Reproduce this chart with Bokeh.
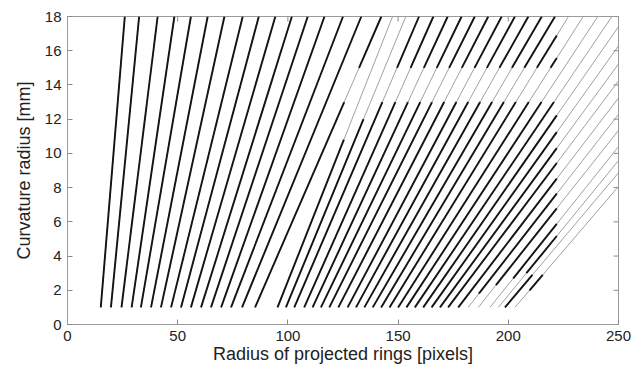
from math import pi
from bokeh.plotting import figure
from bokeh.models import Range1d, FixedTicker
from bokeh.embed import file_html
from bokeh.resources import INLINE

# ---------------- data ----------------
# Radius of projected ring [pixels] at curvature radius 1 mm and at 18 mm
left_x_at_1mm = [15.1, 19.7, 24.5, 29.1, 33.3, 37.9, 42.4, 47.0,
                 51.5, 56.0, 60.6, 65.1, 69.7, 74.2, 79.2, 85.1]
left_x_at_18mm = [26.0, 32.5, 40.9, 48.5, 56.0, 63.6, 71.2, 79.5,
                  86.8, 94.3, 101.8, 109.0, 116.6, 125.0, 133.3, 142.4]

right_x_at_1mm = [95.3, 99.1, 102.9, 107.4, 111.2, 115.0, 118.8, 122.9,
                  127.1, 130.9, 134.7, 138.5, 142.3, 146.1, 150.0, 153.8,
                  157.6, 161.4, 165.2, 169.0, 172.7, 177.3, 181.8, 186.4,
                  191.7, 195.5, 198.5, 203.0]
right_x_at_18mm = [147.5, 153.5, 159.5, 166.0, 172.5, 178.8, 184.8, 190.9,
                   197.0, 203.0, 209.1, 215.2, 221.2, 227.3, 234.0, 240.6,
                   247.0, 253.2, 259.5, 265.8, 272.0, 278.3, 284.6, 290.9,
                   297.2, 303.5, 309.8, 316.0]

# curvature ranges [mm] where each ring was measured (black)
left_measured = [[(1, 18)]] * 15 + [[(1, 13), (15, 18)]]
right_measured = ([[(1, 10.8)], [(1, 12.0)]]
                  + [[(1, 13), (15, 18)]] * 13
                  + [[(1, 13)]] * 2
                  + [[(1, 18)]] * 5
                  + [[(1.8, 18)], [(2.3, 18)], [(2.7, 18)], [(3.0, 18)],
                     [(1.0, 2.9)], [(2.0, 2.9)]])

image_limit = 222.0       # largest measurable ring radius [pixels]
x_ticks = [0, 50, 100, 150, 200, 250]
y_ticks = [0, 2, 4, 6, 8, 10, 12, 14, 16, 18]
X_MAX, Y_MAX = 250, 18

# ---------------- build geometry ----------------
x1_all = left_x_at_1mm + right_x_at_1mm
x18_all = left_x_at_18mm + right_x_at_18mm
meas_all = left_measured + right_measured

def x_at(i, y):
    return x1_all[i] + (y - 1.0) * (x18_all[i] - x1_all[i]) / 17.0

gray_xs, gray_ys, black_xs, black_ys = [], [], [], []
for i in range(len(x1_all)):
    gray_xs.append([x1_all[i], x18_all[i]])
    gray_ys.append([1.0, 18.0])
    y_lim = 1.0 + (image_limit - x1_all[i]) * 17.0 / (x18_all[i] - x1_all[i])
    for (a, b) in meas_all[i]:
        b = min(b, y_lim)
        if b > a:
            black_xs.append([x_at(i, a), x_at(i, b)])
            black_ys.append([a, b])

# ---------------- figure ----------------
p = figure(width=640, height=367, x_range=Range1d(0, X_MAX), y_range=Range1d(0, Y_MAX),
           output_backend="svg", toolbar_location=None,
           min_border_left=67, min_border_right=22, min_border_top=16,
           min_border_bottom=43, background_fill_color="white",
           border_fill_color="white")
p.grid.visible = False
p.outline_line_color = "#9a9a9a"

p.multi_line(gray_xs, gray_ys, line_color="#a0a0a0", line_width=1.0)
p.multi_line(black_xs, black_ys, line_color="#141414", line_width=1.9)

FONT = "Liberation Sans"
for ax in (p.xaxis[0], p.yaxis[0]):
    ax.axis_line_color = "#9a9a9a"
    ax.major_tick_line_color = "#8a8a8a"
    ax.major_tick_in = 5
    ax.major_tick_out = 0
    ax.minor_tick_line_color = None
    ax.major_label_text_font = FONT
    ax.major_label_text_font_size = "15px"
    ax.major_label_text_color = "#222222"
    ax.axis_label_text_font = FONT
    ax.axis_label_text_font_size = "18px"
    ax.axis_label_text_font_style = "normal"
    ax.axis_label_text_color = "#222222"
p.xaxis[0].ticker = FixedTicker(ticks=x_ticks)
p.yaxis[0].ticker = FixedTicker(ticks=y_ticks)
p.xaxis[0].axis_label = "Radius of projected rings [pixels]"
p.yaxis[0].axis_label = "Curvature radius [mm]"
p.xaxis[0].major_label_standoff = 6
p.xaxis[0].axis_label_standoff = 0
p.yaxis[0].major_label_standoff = 6
p.yaxis[0].axis_label_standoff = 8

# inward tick marks on the top and right edges of the box
p.ray(x=x_ticks, y=[Y_MAX] * len(x_ticks), length=5, length_units="screen",
      angle=-pi / 2, line_color="#8a8a8a", line_width=1)
p.ray(x=[X_MAX] * len(y_ticks), y=y_ticks, length=5, length_units="screen",
      angle=pi, line_color="#8a8a8a", line_width=1)

open("out.html", "w").write(file_html(p, INLINE))
